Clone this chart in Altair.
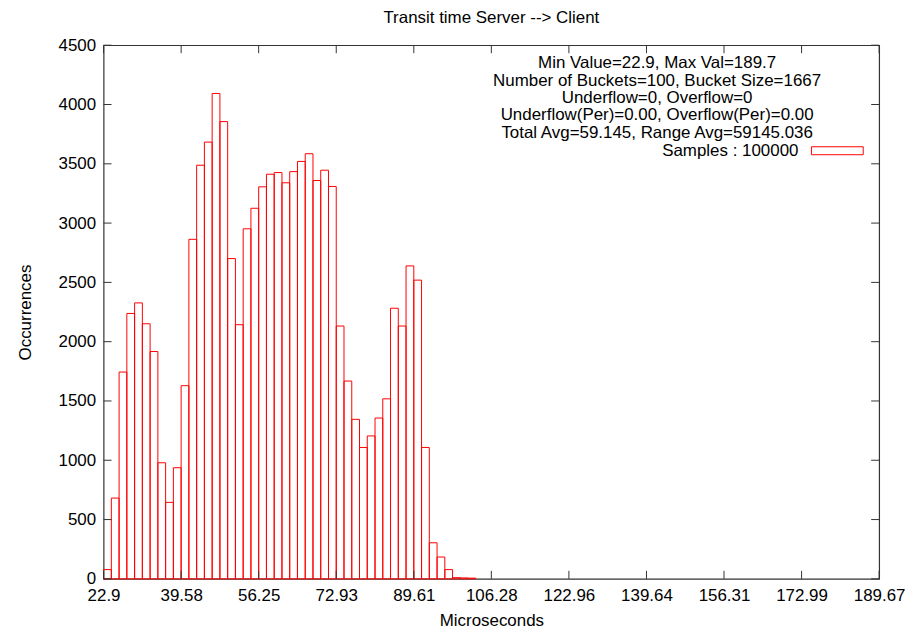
import altair as alt
import pandas as pd

# ---- data ----
min_value = 22.9
bucket_size = 1.6677
counts = [78, 681, 1744, 2238, 2327, 2151, 1917, 979, 645, 937,
          1629, 2863, 3488, 3683, 4093, 3856, 2701, 2143, 2952, 3125,
          3306, 3412, 3426, 3340, 3434, 3520, 3585, 3359, 3446, 3309,
          2132, 1668, 1345, 1108, 1205, 1356, 1518, 2282, 2132, 2639,
          2519, 1108, 304, 184, 78, 10, 8, 6]
x_ticks = [22.9, 39.58, 56.25, 72.93, 89.61, 106.28, 122.96, 139.64, 156.31, 172.99, 189.67]
y_ticks = [0, 500, 1000, 1500, 2000, 2500, 3000, 3500, 4000, 4500]
key_lines = ["Min Value=22.9, Max Val=189.7",
             "Number of Buckets=100, Bucket Size=1667",
             "Underflow=0, Overflow=0",
             "Underflow(Per)=0.00, Overflow(Per)=0.00",
             "Total Avg=59.145, Range Avg=59145.036"]
sample_label = "Samples : 100000"

FONT = "Liberation Sans"
FS = 17
W, H = 779, 536
RED = "#ff0000"

bars = pd.DataFrame({
    "start": [min_value + i * bucket_size for i in range(len(counts))],
    "end": [min_value + (i + 1) * bucket_size for i in range(len(counts))],
    "count": counts,
})

xscale = alt.Scale(domain=[x_ticks[0], x_ticks[-1]], nice=False, zero=False)
yscale = alt.Scale(domain=[0, 4500], nice=False)

axis_font = dict(labelFont=FONT, labelFontSize=FS, labelColor="black",
                 titleFont=FONT, titleFontSize=FS, titleFontWeight="normal", titleColor="black")

hist = alt.Chart(bars).mark_rect(fill="white", fillOpacity=0, stroke=RED, strokeWidth=1).encode(
    x=alt.X("start:Q", scale=xscale,
            axis=alt.Axis(values=x_ticks, format=".2~f", title="Microseconds", ticks=False,
                          domain=False, grid=False, labelFlush=False, labelPadding=9,
                          titlePadding=9, **axis_font)),
    x2="end:Q",
    y=alt.Y("count:Q", scale=yscale,
            axis=alt.Axis(values=y_ticks, format="d", title="Occurrences", ticks=False, domain=False,
                          grid=False, labelPadding=8, titlePadding=24, **axis_font)),
)

xt = pd.DataFrame({"v": x_ticks})
yt = pd.DataFrame({"v": y_ticks})
tick_style = dict(color="#333333", strokeWidth=1)
xb = alt.Chart(xt).mark_rule(**tick_style).encode(x=alt.X("v:Q", scale=xscale), y=alt.value(H), y2=alt.value(H - 8))
xtop = alt.Chart(xt).mark_rule(**tick_style).encode(x=alt.X("v:Q", scale=xscale), y=alt.value(0), y2=alt.value(8))
yl = alt.Chart(yt).mark_rule(**tick_style).encode(y=alt.Y("v:Q", scale=yscale), x=alt.value(0), x2=alt.value(8))
yr = alt.Chart(yt).mark_rule(**tick_style).encode(y=alt.Y("v:Q", scale=yscale), x=alt.value(W - 8), x2=alt.value(W))

one = alt.Data(values=[{}])
key_text = alt.Chart(one).mark_text(
    text="\n".join(key_lines), lineBreak="\n", lineHeight=17.5, align="center",
    baseline="top", font=FONT, fontSize=FS, color="black"
).encode(x=alt.value(556), y=alt.value(10))
sample_text = alt.Chart(one).mark_text(
    text=sample_label, align="right", baseline="middle", font=FONT, fontSize=FS, color="black"
).encode(x=alt.value(698), y=alt.value(106))
sample_box = alt.Chart(one).mark_rect(fill="white", fillOpacity=0, stroke=RED, strokeWidth=1).encode(
    x=alt.value(711), x2=alt.value(763), y=alt.value(102), y2=alt.value(110))

chart = alt.layer(hist, xb, xtop, yl, yr, key_text, sample_text, sample_box).properties(
    width=W, height=H,
    title=alt.TitleParams("Transit time Server --> Client", font=FONT, fontSize=FS,
                          fontWeight="normal", color="black", offset=9),
    autosize=alt.AutoSizeParams(type="none"),
    padding={"left": 96, "top": 36, "right": 30, "bottom": 50},
    background="white",
).configure_view(stroke="#333333", strokeWidth=1.2)

chart.save("out.html", embed_options={"renderer": "svg", "actions": False})
